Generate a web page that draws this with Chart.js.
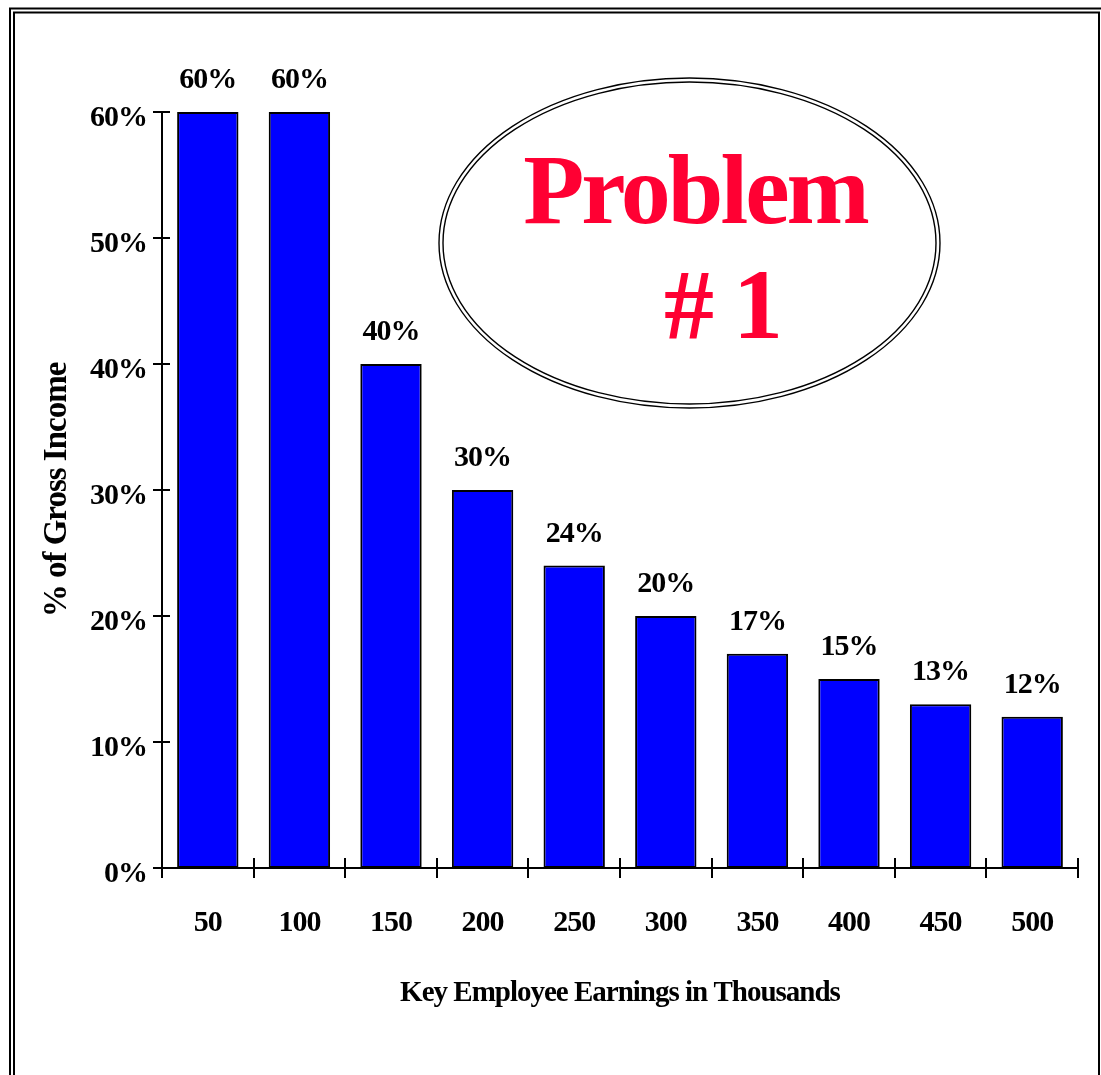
<!DOCTYPE html>
<html>
<head>
<meta charset="utf-8">
<script src="https://cdn.jsdelivr.net/npm/chart.js@4"></script>
<style>
  html, body { margin: 0; padding: 0; background: #fff; }
  #wrap { width: 1101px; height: 1075px; position: relative; }
</style>
</head>
<body>
<div id="wrap"><canvas id="chart"></canvas></div>
<script>
// Share of gross income by key employee earnings (thousands)
const earnings = ['50', '100', '150', '200', '250', '300', '350', '400', '450', '500'];
const percentOfIncome = [60, 60, 40, 30, 24, 20, 17, 15, 13, 12];
const yTickValues = [0, 10, 20, 30, 40, 50, 60];
const yAxisTitle = '% of Gross Income';
const xAxisTitle = 'Key Employee Earnings in Thousands';
const badgeLines = ['Problem', '# 1'];

const SERIF = '"Liberation Serif", "Times New Roman", Times, serif';

// Double frame around the whole figure; tight letter spacing for all text
const framePlugin = {
  id: 'frame',
  beforeDraw(chart) {
    const ctx = chart.ctx;
    ctx.letterSpacing = '-1px';
    ctx.save();
    ctx.strokeStyle = '#000';
    ctx.lineWidth = 2;
    ctx.strokeRect(10, 8.5, 1200, 1200);
    ctx.strokeRect(14, 12.5, 1085, 1200);
    ctx.restore();
  }
};

// Tick marks that cross the axis lines
const crossTicksPlugin = {
  id: 'crossTicks',
  afterDraw(chart) {
    const ctx = chart.ctx;
    const xs = chart.scales.x, ys = chart.scales.y;
    const axisX = chart.chartArea.left;
    const axisY = chart.chartArea.bottom;
    ctx.save();
    ctx.strokeStyle = '#000';
    ctx.lineWidth = 2;
    ctx.beginPath();
    ys.ticks.forEach((t, i) => {
      const py = Math.round(ys.getPixelForTick(i));
      ctx.moveTo(axisX - 9, py);
      ctx.lineTo(axisX + 8, py);
    });
    for (let i = 0; i <= earnings.length; i++) {
      const px = Math.round(xs.getPixelForValue(i - 0.5));
      ctx.moveTo(px, axisY - 10);
      ctx.lineTo(px, axisY + 10);
    }
    ctx.stroke();
    ctx.restore();
  }
};

// Percentage label above each bar
const valueLabelPlugin = {
  id: 'valueLabels',
  afterDatasetsDraw(chart) {
    const ctx = chart.ctx;
    const meta = chart.getDatasetMeta(0);
    ctx.save();
    ctx.fillStyle = '#000';
    ctx.font = 'bold 30px ' + SERIF;
    ctx.letterSpacing = '-1px';
    ctx.textAlign = 'center';
    ctx.textBaseline = 'alphabetic';
    meta.data.forEach((bar, i) => {
      ctx.fillText(percentOfIncome[i] + '%', bar.x, bar.y - 24);
    });
    ctx.restore();
  }
};

// Oval badge with red caption
const badgePlugin = {
  id: 'badge',
  afterDraw(chart) {
    const ctx = chart.ctx;
    const cx = 689.5, cy = 243;
    ctx.save();
    ctx.strokeStyle = '#000';
    ctx.lineWidth = 1.4;
    ctx.beginPath();
    ctx.ellipse(cx, cy, 250.5, 165, 0, 0, Math.PI * 2);
    ctx.stroke();
    ctx.beginPath();
    ctx.ellipse(cx, cy, 246.5, 161, 0, 0, Math.PI * 2);
    ctx.stroke();
    ctx.fillStyle = '#FF0033';
    ctx.font = 'bold 100px ' + SERIF;
    ctx.letterSpacing = '-3px';
    ctx.textAlign = 'center';
    ctx.textBaseline = 'alphabetic';
    ctx.fillText(badgeLines[0], 695, 223);
    ctx.fillText(badgeLines[1], 722, 338);
    ctx.restore();
  }
};

new Chart(document.getElementById('chart'), {
  type: 'bar',
  data: {
    labels: earnings,
    datasets: [{
      data: percentOfIncome,
      backgroundColor: '#0000FF',
      borderColor: '#000',
      borderWidth: 2,
      borderSkipped: false,
      barPercentage: 0.67,
      categoryPercentage: 1.0
    }]
  },
  options: {
    responsive: true,
    maintainAspectRatio: false,
    devicePixelRatio: 1,
    animation: false,
    layout: { padding: { top: 112, right: 23, bottom: 0, left: 0 } },
    plugins: {
      legend: { display: false },
      tooltip: { enabled: false },
      title: { display: false }
    },
    scales: {
      x: {
        grid: { display: false, drawTicks: false },
        border: { display: true, color: '#000', width: 2 },
        ticks: {
          color: '#000',
          padding: 37,
          font: { family: SERIF, weight: 'bold', size: 30 }
        },
        title: {
          display: true,
          text: xAxisTitle,
          color: '#000',
          font: { family: SERIF, weight: 'bold', size: 29 },
          padding: { top: 0, bottom: 64 }
        },
        afterFit(scale) { scale.height = 207; }
      },
      y: {
        min: 0,
        max: 60,
        afterBuildTicks(scale) { scale.ticks = yTickValues.map(v => ({ value: v })); },
        grid: { display: false, drawTicks: false },
        border: { display: true, color: '#000', width: 2 },
        ticks: {
          color: '#000',
          padding: 15,
          labelOffset: 6,
          font: { family: SERIF, weight: 'bold', size: 30 },
          callback: v => v + '%'
        },
        title: {
          display: true,
          text: yAxisTitle,
          color: '#000',
          font: { family: SERIF, weight: 'bold', size: 33 },
          padding: { top: 38, bottom: 0 }
        },
        afterFit(scale) { scale.width = 162; }
      }
    }
  },
  plugins: [framePlugin, crossTicksPlugin, valueLabelPlugin, badgePlugin]
});
</script>
</body>
</html>
